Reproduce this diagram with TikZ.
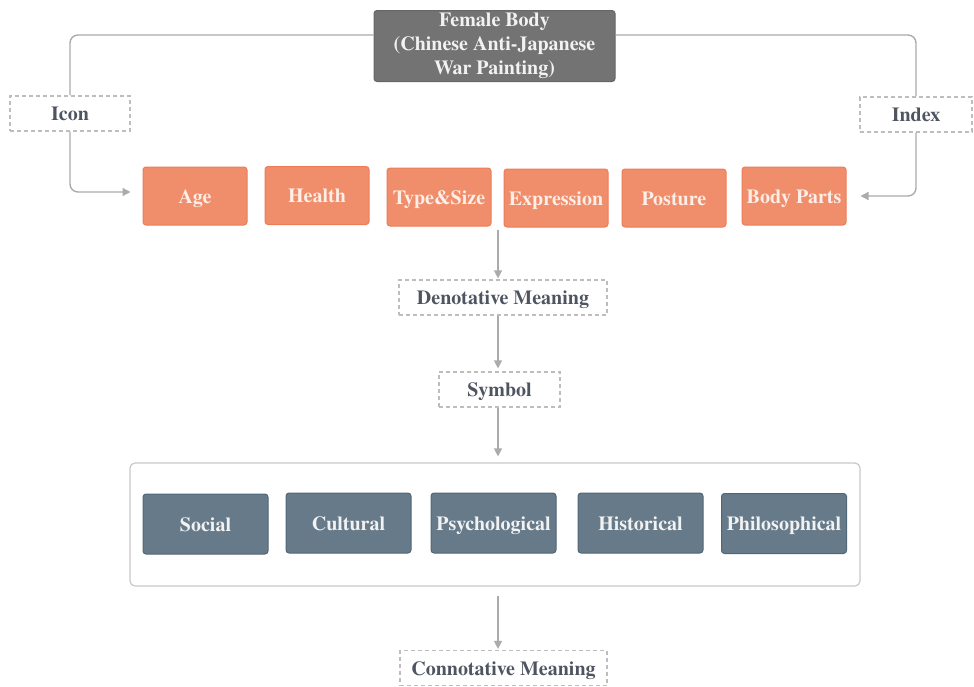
\documentclass[tikz,border=0pt]{standalone}
\usepackage{fontspec}
\setmainfont{texgyretermes}[Extension=.otf,UprightFont=*-regular,BoldFont=*-bold]
\usetikzlibrary{arrows.meta}
\definecolor{orangefill}{HTML}{F08E6B}
\definecolor{orangeline}{HTML}{EC7D58}
\definecolor{orangetext}{HTML}{FDEEE8}
\definecolor{bluefill}{HTML}{667A89}
\definecolor{blueline}{HTML}{516777}
\definecolor{lighttext}{HTML}{F2F2F2}
\definecolor{darkfill}{HTML}{737373}
\definecolor{darkline}{HTML}{666666}
\definecolor{connc}{HTML}{ABABAB}
\definecolor{dashc}{HTML}{BDBDBD}
\definecolor{framec}{HTML}{C8C8C8}
\definecolor{labtext}{HTML}{4E5561}
\begin{document}
\begin{tikzpicture}[x=1pt,y=-1pt,
  base/.style={font=\fontsize{20}{24}\selectfont\bfseries, inner sep=0pt, align=center},
  one/.style={text height=14.6pt, text depth=0pt},
  orangebox/.style={base, one, rectangle, rounded corners=3pt, fill=orangefill, draw=orangeline, line width=1pt, minimum width=104pt, minimum height=58pt, text=orangetext},
  bluebox/.style={base, one, rectangle, rounded corners=3pt, fill=bluefill, draw=blueline, line width=1pt, minimum width=125pt, minimum height=60pt, text=lighttext},
  dashbox/.style={base, one, rectangle, draw=dashc, line width=1.2pt, dash pattern=on 4pt off 3pt, text=labtext, minimum height=35pt},
  topbox/.style={base, rectangle, fill=darkfill, draw=darkline, line width=1pt, rounded corners=3pt, minimum width=241pt, minimum height=71pt, text=lighttext},
  framebox/.style={rectangle, draw=framec, line width=1.2pt, rounded corners=5pt, minimum width=730pt, minimum height=123pt},
  conn/.style={draw=connc, line width=1.4pt, -{Triangle[width=8pt,length=8pt]}, rounded corners=8pt},
  plain/.style={draw=connc, line width=1.4pt, rounded corners=8pt},
]
\useasboundingbox (0,0) rectangle (974,686);

% top
\node[topbox] (fb) at (494.5,46) {Female Body\\(Chinese Anti-Japanese\\War Painting)};
\node[dashbox, minimum width=120pt] (icon) at (70,113.5) {Icon};
\node[dashbox, minimum width=112pt] (index) at (916,114.5) {Index};

% orange row
\node[orangebox] (age) at (195,196) {Age};
\node[orangebox] (health) at (317,195.5) {Health};
\node[orangebox] (type) at (439,197) {Type\&Size};
\node[orangebox] (expr) at (556,198) {Expression};
\node[orangebox] (post) at (674,198) {Posture};
\node[orangebox] (bp) at (794,196) {Body Parts};

\coordinate (rowc) at (498,230);

% middle
\node[dashbox, minimum width=208pt] (den) at (503,297.5) {Denotative Meaning};
\node[dashbox, minimum width=121pt] (sym) at (499.5,389.5) {Symbol};

% frame and blue row
\node[framebox] (frame) at (495,524.5) {};
\node[bluebox] (soc) at (205.5,524) {Social};
\node[bluebox] (cul) at (348.5,523) {Cultural};
\node[bluebox] (psy) at (493.5,523) {Psychological};
\node[bluebox] (his) at (640.5,523) {Historical};
\node[bluebox] (phi) at (784,523.5) {Philosophical};

\node[dashbox, minimum width=207pt] (con) at (503.5,668) {Connotative Meaning};

% connectors
\draw[plain] (fb.west) ++(0,-11) -| (icon.north);
\draw[conn, shorten >=12pt] (icon.south) |- ([yshift=4pt]age.west);
\draw[plain] (fb.east) ++(0,-11) -| (index.north);
\draw[conn, shorten >=14pt] (index.south) |- (bp.east);
\draw[conn, shorten >=1pt] (rowc) -- (den.north -| rowc);
\draw[conn, shorten >=3pt] (den.south -| rowc) -- (sym.north -| rowc);
\draw[conn, shorten >=6pt] (sym.south -| rowc) -- (frame.north -| rowc);
\draw[conn, shorten >=1pt] ([yshift=-9pt]frame.south -| rowc) -- (con.north -| rowc);
\end{tikzpicture}
\end{document}
